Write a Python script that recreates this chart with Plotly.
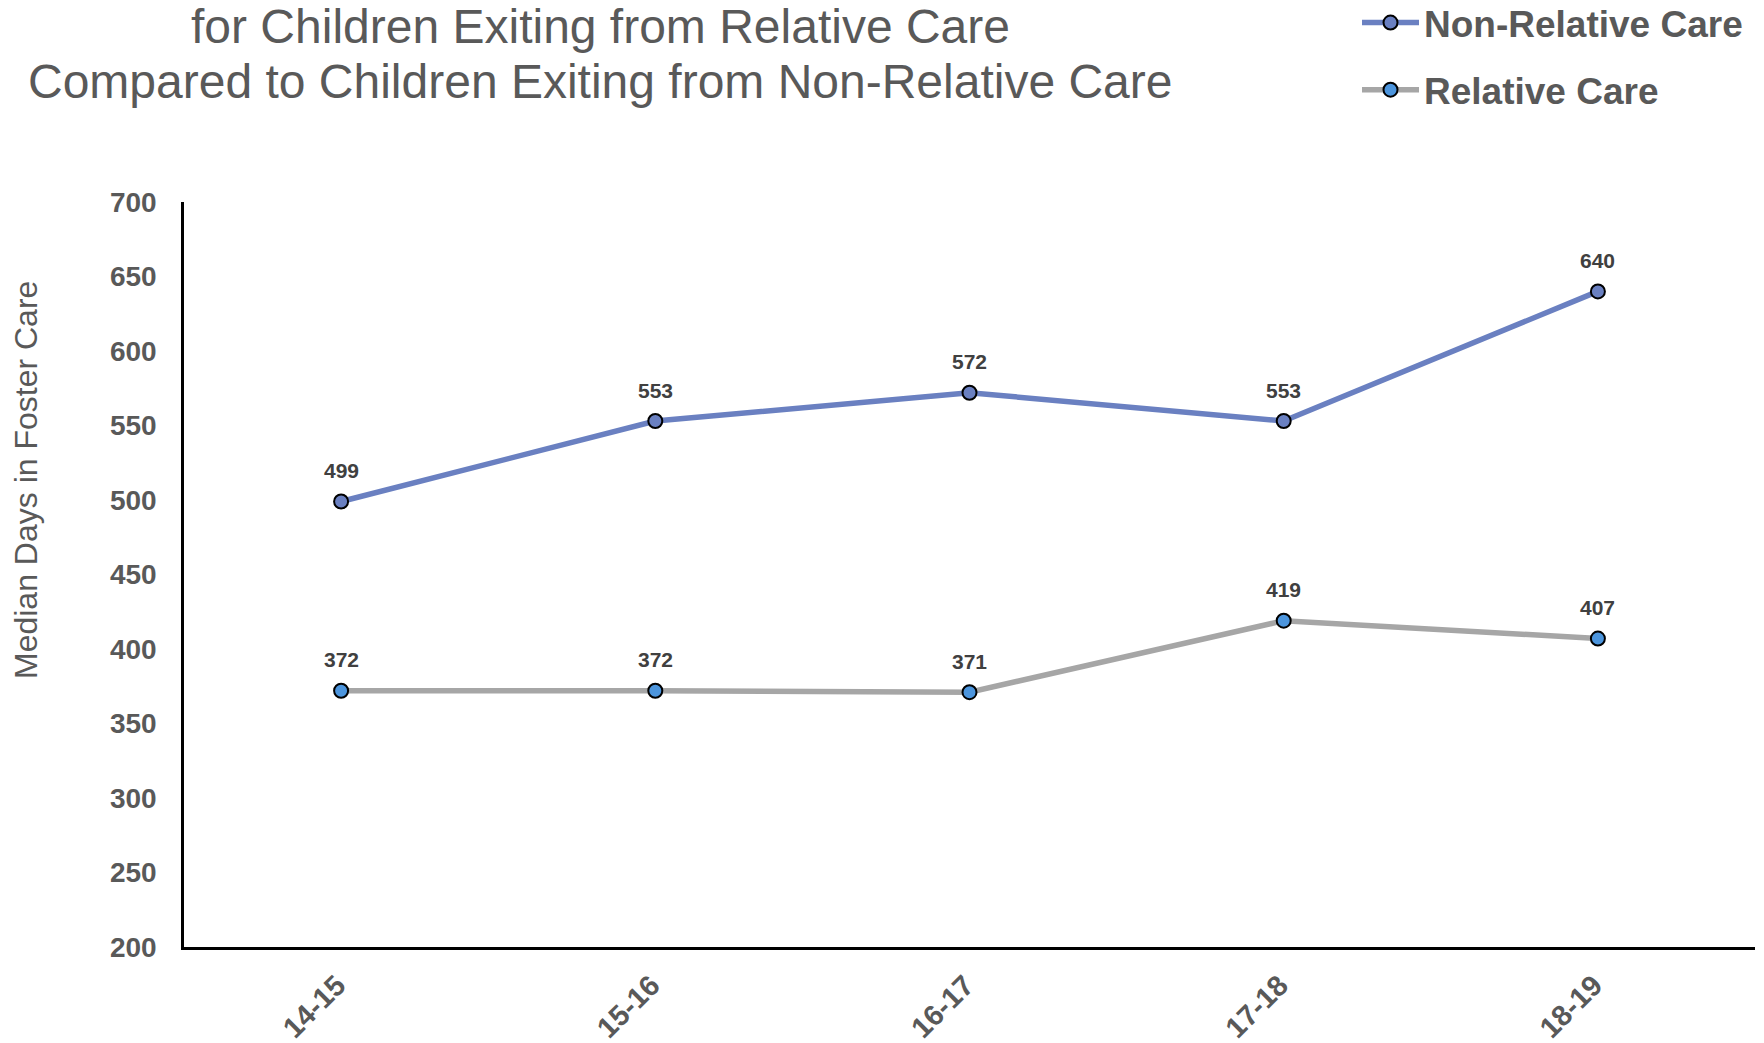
import plotly.graph_objects as go

categories = ["14-15", "15-16", "16-17", "17-18", "18-19"]
non_relative = [499, 553, 572, 553, 640]
relative = [372, 372, 371, 419, 407]
series_names = ["Non-Relative Care", "Relative Care"]
title_lines = ["for Children Exiting from Relative Care",
               "Compared to Children Exiting from Non-Relative Care"]
y_title = "Median Days in Foster Care"
y_ticks = [200, 250, 300, 350, 400, 450, 500, 550, 600, 650, 700]

W, H = 1764, 1043
L, R, T, B = 184, 9, 202, 96
pw, ph = W - L - R, H - T - B

def px_x(p):
    return (p - L) / pw

def px_y(p):
    return (H - B - p) / ph

FONT = "Liberation Sans, Arial"

fig = go.Figure()
fig.add_trace(go.Scatter(
    x=categories, y=non_relative, name=series_names[0], mode="lines+markers",
    line=dict(color="#6A80C1", width=5.5),
    marker=dict(size=14, color="#6A80C1", line=dict(color="#000000", width=2)),
    legendgroup="a",
))
fig.add_trace(go.Scatter(
    x=categories, y=relative, name=series_names[1], mode="lines+markers",
    line=dict(color="#A6A6A6", width=5.5),
    marker=dict(size=14, color="#4C95DD", line=dict(color="#000000", width=2)),
    legendgroup="b",
))

annotations = []
for series in (non_relative, relative):
    for c, v in zip(categories, series):
        annotations.append(dict(
            x=c, y=v, xref="x", yref="y", text=str(v), showarrow=False,
            yshift=31, font=dict(family=FONT, size=21, color="#404040", weight="bold"),
        ))

annotations.append(dict(
    x=px_x(600), y=px_y(26), xref="paper", yref="paper", text=title_lines[0],
    showarrow=False, xanchor="center", yanchor="middle",
    font=dict(family=FONT, size=48, color="#595959"),
))
annotations.append(dict(
    x=px_x(600), y=px_y(81), xref="paper", yref="paper", text=title_lines[1],
    showarrow=False, xanchor="center", yanchor="middle",
    font=dict(family=FONT, size=48, color="#595959"),
))
annotations.append(dict(
    x=px_x(26), y=px_y(480), xref="paper", yref="paper", text=y_title,
    showarrow=False, xanchor="center", yanchor="middle", textangle=-90,
    font=dict(family=FONT, size=32, color="#595959"),
))

fig.update_layout(
    width=W, height=H,
    margin=dict(l=L, r=R, t=T, b=B, pad=0, autoexpand=False),
    paper_bgcolor="white", plot_bgcolor="white",
    showlegend=True,
    legend=dict(
        x=px_x(1357), y=px_y(-8), xref="paper", yref="paper",
        xanchor="left", yanchor="top",
        font=dict(family=FONT, size=37, color="#595959", weight="bold"),
        itemwidth=57, tracegroupgap=16, traceorder="grouped",
        bgcolor="rgba(0,0,0,0)",
    ),
    annotations=annotations,
)
fig.update_xaxes(
    type="category", range=[-0.5, 4.5], showgrid=False, zeroline=False,
    showline=True, linecolor="#000000", linewidth=2.5,
    ticks="", tickangle=-45, ticklabelstandoff=7, ticklabelshift=-4,
    tickfont=dict(family=FONT, size=29, color="#595959", weight="bold"),
)
fig.update_yaxes(
    range=[200, 700], tickvals=y_ticks, showgrid=False, zeroline=False,
    showline=True, linecolor="#000000", linewidth=2.5,
    ticks="", ticklabelstandoff=19,
    tickfont=dict(family=FONT, size=28, color="#595959", weight="bold"),
)

fig.write_html(
    "out.html",
    config={"displayModeBar": False},
    post_script="document.body.style.margin='0';document.body.style.overflow='hidden';",
)
